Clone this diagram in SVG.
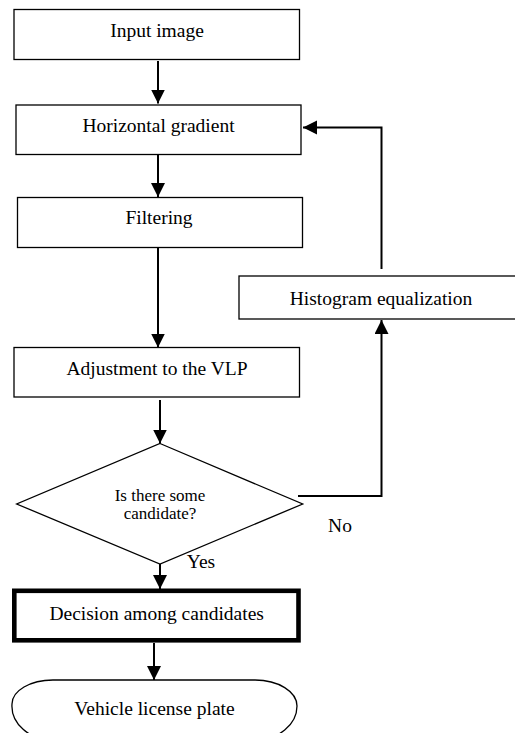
<svg xmlns="http://www.w3.org/2000/svg" width="515" height="733" viewBox="0 0 515 733">
<defs>
<marker id="ah" markerUnits="userSpaceOnUse" markerWidth="14" markerHeight="16" viewBox="0 0 14 16" refX="14" refY="7" orient="auto">
<path d="M0,0 L14,7 L0,14 Z" fill="#000"/>
</marker>
<style>
.box{fill:#fff;stroke:#000;stroke-width:1.3}
.thick{fill:#fff;stroke:#000;stroke-width:4.6}
text{font-family:'Liberation Serif','Times New Roman',Times,serif;fill:#000;text-anchor:middle}
.t{font-size:19.5px}
.s{font-size:17px}
.ca{fill:none;stroke:#000;stroke-width:2;marker-end:url(#ah)}
</style>
</defs>
<g id="connectors">
<path class="ca" d="M158,61 V103.5"/>
<path class="ca" d="M158,155 V197"/>
<path class="ca" d="M158,248 V347.5"/>
<path class="ca" d="M160,400 V443.5"/>
<path class="ca" d="M160,564 V589"/>
<path class="ca" d="M154,643 V680"/>
<path class="ca" d="M298,496 H381.5 V320"/>
<path class="ca" d="M381.5,269 V127.5 H303"/>
</g>
<g font-family="Liberation Serif, serif">
<g id="input">
<rect class="box" x="14" y="9.5" width="285.5" height="50"/>
<text class="t" x="157" y="36.5">Input image</text>
</g>
<g id="hgrad">
<rect class="box" x="16" y="105" width="285" height="49.5"/>
<text class="t" x="158.5" y="132">Horizontal gradient</text>
</g>
<g id="filter">
<rect class="box" x="17.5" y="197.5" width="285" height="50"/>
<text class="t" x="159" y="224">Filtering</text>
</g>
<g id="adjust">
<rect class="box" x="14" y="347.5" width="285.5" height="49.5"/>
<text class="t" x="157" y="375">Adjustment to the VLP</text>
</g>
<g id="histeq">
<rect class="box" x="239" y="276" width="290" height="43"/>
<text class="t" x="381" y="305">Histogram equalization</text>
</g>
<g id="decision">
<polygon class="box" points="160,443.5 302.7,504 160,564 16.7,504"/>
<text class="s" x="160" y="500.5">Is there some</text>
<text class="s" x="160" y="519">candidate?</text>
</g>
<g id="labels">
<text class="t" x="340" y="532">No</text>
<text class="t" x="201" y="568">Yes</text>
</g>
<g id="choose">
<rect class="thick" x="14.3" y="590.8" width="284.2" height="49.5"/>
<text class="t" x="156.7" y="620">Decision among candidates</text>
</g>
<g id="plate">
<path class="box" d="M53,680 H255 A42,26 0 0 1 297,706 A42,34 0 0 1 255,740 H53 A41,34 0 0 1 12,704 A41,24 0 0 1 53,680 Z"/>
<text class="t" x="154.5" y="715">Vehicle license plate</text>
</g>
</g>
</svg>
